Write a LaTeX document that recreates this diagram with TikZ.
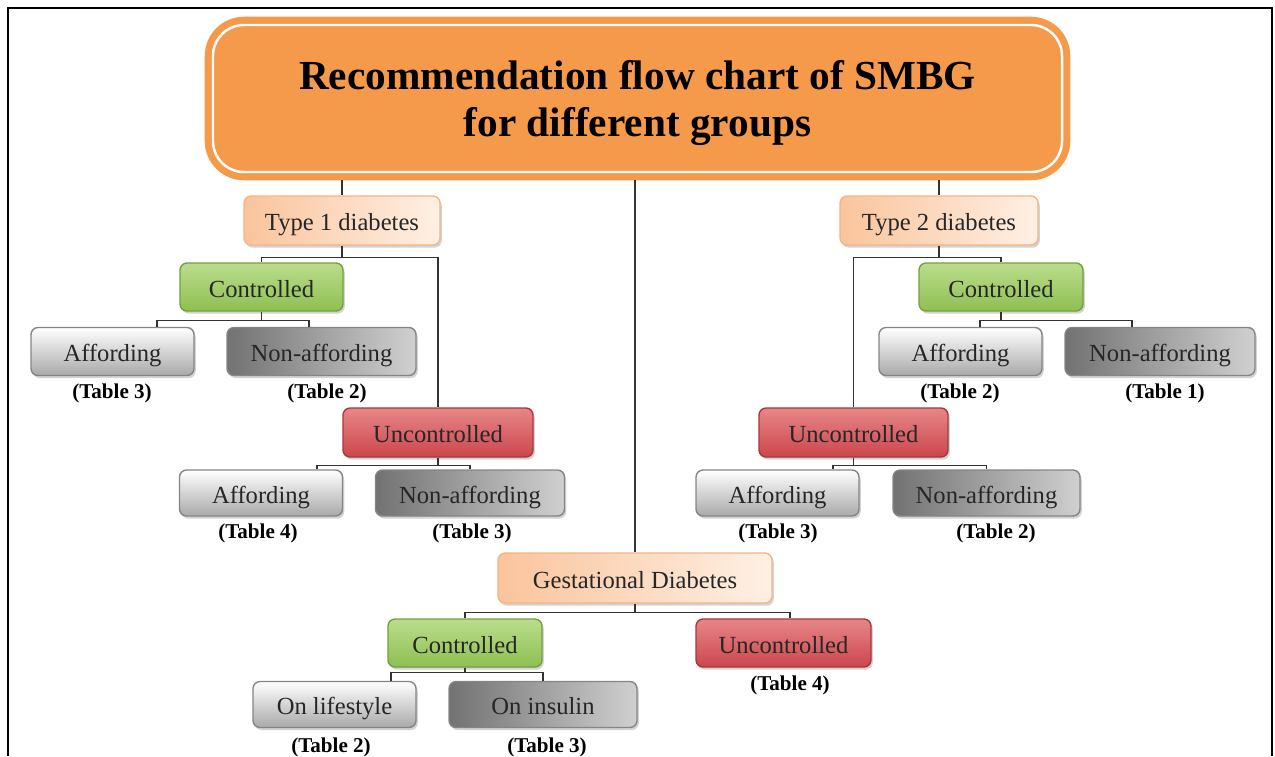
\documentclass[tikz,border=0pt]{standalone}
\usepackage{fontspec}
\setmainfont{Liberation Serif}
\usetikzlibrary{shadows}
\definecolor{titleorange}{HTML}{F5994B}
\definecolor{peachdark}{HTML}{FAC49C}
\definecolor{peachlight}{HTML}{FEF0E4}
\definecolor{peachline}{HTML}{F6B483}
\definecolor{greentop}{HTML}{BADD8C}
\definecolor{greenbot}{HTML}{8FBF52}
\definecolor{greenline}{HTML}{74A03E}
\definecolor{redtop}{HTML}{E78688}
\definecolor{redbot}{HTML}{CB474D}
\definecolor{redline}{HTML}{A8363B}
\definecolor{graylow}{HTML}{A9A9A9}
\definecolor{graydark}{HTML}{727272}
\definecolor{graylight}{HTML}{D0D0D0}
\definecolor{grayline}{HTML}{858585}
\tikzset{
title/.style={ % Big heading box with the white inner rim
rounded corners=0.62cm,
fill=titleorange, draw=titleorange,
double=white, double distance=1.4pt, line width=4pt,
minimum width=16.98cm, minimum height=2.94cm,
outer sep=0.166cm, align=center, text depth=0pt,
font=\fontsize{23.5}{27}\selectfont\bfseries},
box/.style={ % Sets the properties for each box
rounded corners=4pt, draw, line width=0.8pt, inner sep=0pt,
minimum width=3.26cm, minimum height=0.96cm,
text height=12pt, text depth=0.5pt,
text=black!85, font=\fontsize{14}{16}\selectfont,
drop shadow={shadow xshift=1pt, shadow yshift=-1.5pt, opacity=0.35}},
typebox/.style={box, draw=peachline, left color=peachdark, right color=peachlight},
okbox/.style={box, draw=greenline, top color=greentop, bottom color=greenbot},
badbox/.style={box, draw=redline, top color=redtop, bottom color=redbot},
paybox/.style={box, draw=grayline, top color=white, bottom color=graylow},
nopaybox/.style={box, draw=grayline, left color=graydark, right color=graylight,
minimum width=3.78cm},
tabref/.style={font=\fontsize{12}{14}\selectfont\bfseries}, % Table references
link/.style={draw=black!80, line width=0.8pt}} % Connectors

\begin{document}
\begin{tikzpicture}
\useasboundingbox (0,0) rectangle (25.5,-15.12);
\draw[line width=1.5pt] (0.16,-15.12) -- (0.16,-0.16) -- (25.44,-0.16) -- (25.44,-15.12);

\node[title] (title) at (12.75,-1.97) {Recommendation flow chart of SMBG\\for different groups};

% Type 1
\node[typebox, minimum width=3.92cm, minimum height=0.98cm] (t1) at (6.84,-4.41) {Type 1 diabetes};
\node[okbox] (t1c) at (5.23,-5.74) {Controlled};
\node[paybox] (t1ca) at (2.25,-7.03) {Affording};
\node[nopaybox] (t1cn) at (6.43,-7.03) {Non-affording};
\node[badbox, minimum width=3.8cm, minimum height=0.98cm] (t1u) at (8.76,-8.65) {Uncontrolled};
\node[paybox, minimum height=0.92cm] (t1ua) at (5.22,-9.86) {Affording};
\node[nopaybox, minimum height=0.92cm] (t1un) at (9.40,-9.86) {Non-affording};
\node[tabref] (t1car) at (2.24,-7.86) {(Table 3)};
\node[tabref] (t1cnr) at (6.54,-7.86) {(Table 2)};
\node[tabref] (t1uar) at (5.16,-10.66) {(Table 4)};
\node[tabref] (t1unr) at (9.44,-10.66) {(Table 3)};

% Type 2
\node[typebox, minimum width=3.96cm, minimum height=0.98cm] (t2) at (18.78,-4.41) {Type 2 diabetes};
\node[okbox, minimum width=3.28cm] (t2c) at (20.02,-5.74) {Controlled};
\node[paybox] (t2ca) at (19.21,-7.03) {Affording};
\node[nopaybox, minimum width=3.8cm] (t2cn) at (23.2,-7.03) {Non-affording};
\node[badbox, minimum width=3.78cm, minimum height=0.98cm] (t2u) at (17.07,-8.65) {Uncontrolled};
\node[paybox, minimum height=0.92cm] (t2ua) at (15.55,-9.86) {Affording};
\node[nopaybox, minimum width=3.74cm, minimum height=0.92cm] (t2un) at (19.73,-9.86) {Non-affording};
\node[tabref] (t2car) at (19.2,-7.86) {(Table 2)};
\node[tabref] (t2cnr) at (23.3,-7.86) {(Table 1)};
\node[tabref] (t2uar) at (15.56,-10.66) {(Table 3)};
\node[tabref] (t2unr) at (19.92,-10.66) {(Table 2)};

% Gestational
\node[typebox, minimum width=5.48cm, minimum height=1cm] (gd) at (12.7,-11.56) {Gestational Diabetes};
\node[okbox, minimum width=3.08cm] (gc) at (9.3,-12.86) {Controlled};
\node[badbox, minimum width=3.5cm] (gu) at (15.67,-12.86) {Uncontrolled};
\node[paybox, minimum height=0.92cm] (gcl) at (6.69,-14.09) {On lifestyle};
\node[nopaybox, minimum width=3.76cm, minimum height=0.92cm] (gci) at (10.86,-14.09) {On insulin};
\node[tabref] (gur) at (15.8,-13.7) {(Table 4)};
\node[tabref] (gclr) at (6.62,-14.94) {(Table 2)};
\node[tabref] (gcir) at (10.94,-14.94) {(Table 3)};

% connectors
\draw[link] (title.south -| t1.north) -- (t1.north);
\draw[link] (title.south -| t2.north) -- (t2.north);
\draw[link] (title.south -| gd.north) -- (gd.north);
\draw[link] (t1.south) -- ++(0,-0.24) -| (t1c.north);
\draw[link] (t1.south) -- ++(0,-0.24) -| (t1u.north);
\draw[link] (t1c.south) -- ++(0,-0.18) -| ([xshift=0.89cm]t1ca.north);
\draw[link] (t1c.south) -- ++(0,-0.18) -| ([xshift=-0.25cm]t1cn.north);
\draw[link] (t1u.south) -- ++(0,-0.16) -| ([xshift=1.12cm]t1ua.north);
\draw[link] (t1u.south) -- ++(0,-0.16) -| (t1un.north);
\draw[link] (t2.south) -- ++(0,-0.24) -| (t2c.north);
\draw[link] (t2.south) -- ++(0,-0.24) -| (t2u.north);
\draw[link] (t2c.south) -- ++(0,-0.18) -| ([xshift=0.39cm]t2ca.north);
\draw[link] (t2c.south) -- ++(0,-0.18) -| ([xshift=-0.56cm]t2cn.north);
\draw[link] (t2u.south) -- ++(0,-0.16) -| ([xshift=1.11cm]t2ua.north);
\draw[link] (t2u.south) -- ++(0,-0.16) -| (t2un.north);
\draw[link] (gd.south) -- ++(0,-0.17) -| (gc.north);
\draw[link] (gd.south) -- ++(0,-0.17) -| ([xshift=0.13cm]gu.north);
\draw[link] (gc.south) -- ++(0,-0.1) -| ([xshift=1.13cm]gcl.north);
\draw[link] (gc.south) -- ++(0,-0.1) -| (gci.north);
\end{tikzpicture}
\end{document}
